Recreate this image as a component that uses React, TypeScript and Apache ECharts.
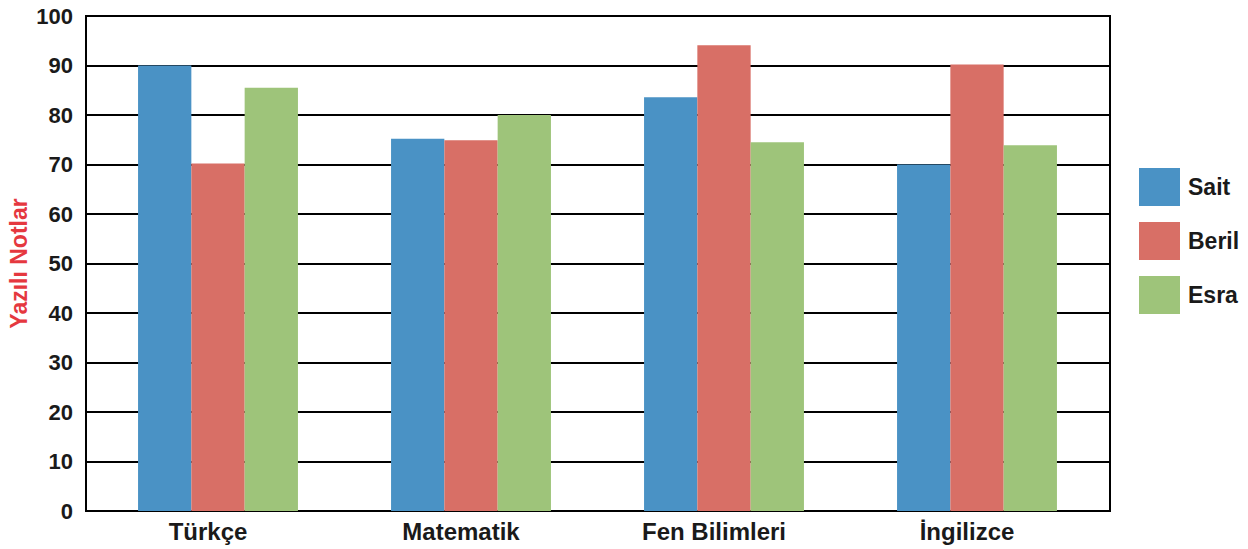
import React, { useEffect, useRef } from "react";
import * as echarts from "echarts";

const categories = ["Türkçe", "Matematik", "Fen Bilimleri", "İngilizce"];
const seriesNames = ["Sait", "Beril", "Esra"];
const saitValues = [90, 75.2, 83.6, 70];
const berilValues = [70.2, 74.9, 94.1, 90.2];
const esraValues = [85.5, 80, 74.5, 73.9];
const yTicks = [0, 10, 20, 30, 40, 50, 60, 70, 80, 90, 100];
const colors = ["#4a92c5", "#d86f66", "#9ec47a"];

export default function App() {
  const ref = useRef<HTMLDivElement>(null);
  useEffect(() => {
    if (!ref.current) return;
    const chart = echarts.init(ref.current, undefined, { renderer: "svg" });
    const font = "'Liberation Sans', Arial, sans-serif";
    const values = [saitValues, berilValues, esraValues];
    const yMin = yTicks[0];
    const yMax = yTicks[yTicks.length - 1];
    chart.setOption({
      animation: false,
      textStyle: { fontFamily: font },
      grid: [
        {
          left: 86,
          right: 138,
          top: 16,
          bottom: 38,
          containLabel: false,
          outerBoundsMode: "none",
          show: true,
          borderColor: "#000",
          borderWidth: 2,
          backgroundColor: "transparent",
          z: 0,
        },
        {
          left: 91.5,
          right: 144.5,
          top: 16,
          bottom: 38,
          containLabel: false,
          outerBoundsMode: "none",
        },
      ],
      legend: {
        orient: "vertical",
        left: 1139,
        top: 168,
        padding: 0,
        itemWidth: 41,
        itemHeight: 38,
        itemGap: 16,
        icon: "rect",
        data: seriesNames,
        textStyle: { fontFamily: font, fontWeight: "bold", fontSize: 23, color: "#1a1a1a", padding: [0, 0, 0, 3] },
      },
      xAxis: [
        {
          type: "category",
          gridIndex: 0,
          data: categories,
          axisLine: { lineStyle: { color: "#000", width: 2 } },
          axisTick: { show: false },
          axisLabel: { show: false },
        },
        {
          type: "category",
          gridIndex: 1,
          data: categories,
          axisLine: { show: false },
          axisTick: { show: false },
          axisLabel: {
            fontFamily: font,
            fontWeight: "bold",
            fontSize: 24,
            color: "#1a1a1a",
            margin: 8,
            padding: [0, 20, 0, 0],
          },
        },
      ],
      yAxis: [
        {
          type: "value",
          gridIndex: 0,
          min: yMin,
          max: yMax,
          interval: 10,
          name: "Yazılı Notlar",
          nameLocation: "middle",
          nameGap: 56,
          nameMoveOverlap: false,
          nameTextStyle: { fontFamily: font, fontWeight: "bold", fontSize: 23, color: "#e5383f" },
          axisLine: { show: true, lineStyle: { color: "#000", width: 2 } },
          axisTick: { show: false },
          splitLine: { lineStyle: { color: "#000", width: 2 } },
          axisLabel: { fontFamily: font, fontWeight: "bold", fontSize: 22, color: "#1a1a1a", margin: 13 },
        },
        {
          type: "value",
          gridIndex: 1,
          min: yMin,
          max: yMax,
          interval: 10,
          show: false,
          splitLine: { show: false },
        },
      ],
      series: seriesNames.map((name, i) => ({
        name,
        type: "bar",
        xAxisIndex: 1,
        yAxisIndex: 1,
        data: values[i],
        barWidth: 53.3,
        barGap: "0%",
        itemStyle: { color: colors[i] },
        z: 3,
      })),
    });
    return () => chart.dispose();
  }, []);
  return (
    <div
      ref={ref}
      style={{ position: "absolute", left: 0, top: 0, width: 1248, height: 549 }}
    />
  );
}
